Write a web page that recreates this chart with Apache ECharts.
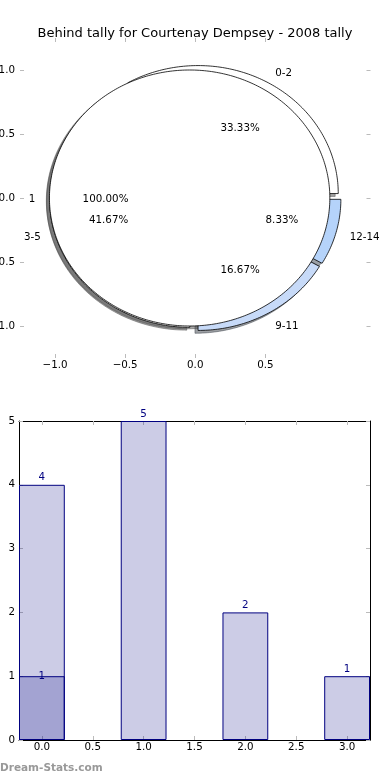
<!DOCTYPE html>
<html><head><meta charset="utf-8">
<script src="https://cdn.jsdelivr.net/npm/echarts@6/dist/echarts.min.js"></script>
<style>html,body{margin:0;padding:0;background:#fff}#c{width:390px;height:780px}</style>
</head><body><div id="c"></div>
<script>
// ---- data ----
const titleText = 'Behind tally for Courtenay Dempsey - 2008 tally';
const pieLabels = ['0-2', '3-5', '9-11', '12-14'];
const pieValues = [4, 5, 2, 1];
const pieColors = ['#ffffff', '#ffffff', '#c7daf8', '#b5d3fa'];
const innerLabels = ['1'];
const innerValues = [1];
const innerColors = ['#ffffff'];
const pieXTicks = [-1, -0.5, 0, 0.5];
const pieYTicks = [-1, -0.5, 0, 0.5, 1];
const barPositions = [0, 1, 2, 3];
const barValues = [4, 5, 2, 1];
const overlayPositions = [0];
const overlayValues = [1];
const barXTicks = [0, 0.5, 1, 1.5, 2, 2.5, 3];
const watermark = 'Dream-Stats.com';

// ---- style / layout ----
const EXPLODE = 0.04;
const SHADOW_OFF = -0.022;
const FONT = '"DejaVu Sans", sans-serif';
const FS = 10.3;
const TEXT_DY = 1.5;
const pieGrid = {left: 20, top: 38, width: 350.5, height: 320};
const barGrid = {left: 19, top: 421, width: 351, height: 319};
const barXMin = -0.225, barXMax = 3.225;
const barW = 0.45 * barGrid.width / (barXMax - barXMin);
const NAVY = '#000080';
const TICK = '#bbbbbb';

function slices(values) {
  const total = values.reduce((a, b) => a + b, 0);
  let acc = 0;
  return values.map(v => {
    const a0 = acc / total * 360; acc += v; const a1 = acc / total * 360;
    const m = (a0 + a1) / 2 * Math.PI / 180;
    return {a0, a1, m, cx: EXPLODE * Math.cos(m), cy: EXPLODE * Math.sin(m),
            full: (a1 - a0) >= 359.999, pct: v / total * 100};
  });
}
const outerS = slices(pieValues);
const innerS = slices(innerValues);

function wedgePts(api, s, dx, dy) {
  const pts = [];
  if (!s.full) pts.push(api.coord([s.cx + dx, s.cy + dy]));
  const n = Math.max(2, Math.ceil(s.a1 - s.a0));
  for (let i = 0; i <= n; i++) {
    const a = (s.a0 + (s.a1 - s.a0) * i / n) * Math.PI / 180;
    pts.push(api.coord([s.cx + dx + Math.cos(a), s.cy + dy + Math.sin(a)]));
  }
  return pts;
}
function shadowColor(hex) {
  const r = parseInt(hex.slice(1, 3), 16), g = parseInt(hex.slice(3, 5), 16), b = parseInt(hex.slice(5, 7), 16);
  return 'rgba(' + Math.round(r * 0.3) + ',' + Math.round(g * 0.3) + ',' + Math.round(b * 0.3) + ',0.5)';
}

function wedgeSeries(name, sl, labels, values, colors, z, shadow) {
  return {
    type: 'custom', name, xAxisIndex: 0, yAxisIndex: 0, z, silent: true, clip: false,
    data: values.map((v, i) => ({value: [i, v], name: labels[i]})),
    renderItem: (params, api) => {
      const i = params.dataIndex, s = sl[i];
      if (shadow) {
        const c = shadowColor(colors[i]);
        return {type: 'polygon', shape: {points: wedgePts(api, s, SHADOW_OFF, SHADOW_OFF)},
                style: {fill: c, stroke: c, lineWidth: 1}};
      }
      return {type: 'polygon', shape: {points: wedgePts(api, s, 0, 0)},
              style: {fill: colors[i], stroke: '#000', lineWidth: 0.8}};
    }
  };
}
function labelSeries(name, sl, labels, values, z) {
  return {
    type: 'custom', name, xAxisIndex: 0, yAxisIndex: 0, z, silent: true, clip: false,
    data: values.map((v, i) => ({value: [i, v], name: labels[i]})),
    renderItem: (params, api) => {
      const i = params.dataIndex, s = sl[i];
      const lx = s.cx + 1.1 * Math.cos(s.m), ly = s.cy + 1.1 * Math.sin(s.m);
      const px = s.cx + 0.6 * Math.cos(s.m), py = s.cy + 0.6 * Math.sin(s.m);
      const lp = api.coord([lx, ly]), pp = api.coord([px, py]);
      return {type: 'group', children: [
        {type: 'text', x: lp[0], y: lp[1] + TEXT_DY, style: {text: labels[i], fill: '#000', fontSize: FS, fontFamily: FONT,
          align: lx > 0 ? 'left' : 'right', verticalAlign: 'middle'}},
        {type: 'text', x: pp[0], y: pp[1] + TEXT_DY, style: {text: s.pct.toFixed(2) + '%', fill: '#000', fontSize: FS, fontFamily: FONT,
          align: 'center', verticalAlign: 'middle'}}
      ]};
    }
  };
}

const fmt1 = v => (v < 0 ? '\u2212' : '') + Math.abs(v).toFixed(1);
const tickStyle = vals => ({show: true, inside: true, length: 4, lineStyle: {color: TICK, width: 1}, customValues: vals});
const lbl = (vals, margin, f) => ({show: true, customValues: vals, formatter: f, color: '#000', fontSize: FS, fontFamily: FONT, margin});

const option = {
  animation: false,
  backgroundColor: '#fff',
  title: {text: titleText, left: 'center', top: 22,
          textStyle: {fontSize: 13, fontWeight: 'normal', color: '#000', fontFamily: FONT}},
  grid: [
    Object.assign({containLabel: false, outerBoundsMode: 'none'}, pieGrid),
    Object.assign({containLabel: false, outerBoundsMode: 'none'}, barGrid)
  ],
  xAxis: [
    {gridIndex: 0, type: 'value', position: 'bottom', min: -1.25, max: 1.25,
     axisLine: {show: false, onZero: false}, splitLine: {show: false},
     axisTick: tickStyle(pieXTicks), axisLabel: lbl(pieXTicks, 2, fmt1)},
    {gridIndex: 0, type: 'value', position: 'top', min: -1.25, max: 1.25,
     axisLine: {show: false, onZero: false}, splitLine: {show: false},
     axisTick: tickStyle(pieXTicks), axisLabel: {show: false}},
    {gridIndex: 1, type: 'value', position: 'bottom', min: barXMin, max: barXMax,
     axisLine: {show: true, onZero: false, lineStyle: {color: '#000', width: 1}}, splitLine: {show: false},
     axisTick: tickStyle(barXTicks), axisLabel: lbl(barXTicks, 2, fmt1)},
    {gridIndex: 1, type: 'value', position: 'top', min: barXMin, max: barXMax,
     axisLine: {show: true, onZero: false, lineStyle: {color: '#000', width: 1}}, splitLine: {show: false},
     axisTick: tickStyle(barXTicks), axisLabel: {show: false}}
  ],
  yAxis: [
    {gridIndex: 0, type: 'value', position: 'left', min: -1.25, max: 1.25,
     axisLine: {show: false, onZero: false}, splitLine: {show: false},
     axisTick: tickStyle(pieYTicks), axisLabel: lbl(pieYTicks, 5, fmt1)},
    {gridIndex: 0, type: 'value', position: 'right', min: -1.25, max: 1.25,
     axisLine: {show: false, onZero: false}, splitLine: {show: false},
     axisTick: tickStyle(pieYTicks), axisLabel: {show: false}},
    {gridIndex: 1, type: 'value', position: 'left', min: 0, max: 5, interval: 1,
     axisLine: {show: true, onZero: false, lineStyle: {color: '#000', width: 1}}, splitLine: {show: false},
     axisTick: {show: true, inside: true, length: 4, lineStyle: {color: TICK}},
     axisLabel: {show: true, color: '#000', fontSize: FS, fontFamily: FONT, margin: 4}},
    {gridIndex: 1, type: 'value', position: 'right', min: 0, max: 5, interval: 1,
     axisLine: {show: true, onZero: false, lineStyle: {color: '#000', width: 1}}, splitLine: {show: false},
     axisTick: {show: true, inside: true, length: 4, lineStyle: {color: TICK}},
     axisLabel: {show: false}}
  ],
  series: [
    wedgeSeries('outerShadow', outerS, pieLabels, pieValues, pieColors, 1, true),
    wedgeSeries('innerShadow', innerS, innerLabels, innerValues, innerColors, 1, true),
    wedgeSeries('outer', outerS, pieLabels, pieValues, pieColors, 2, false),
    wedgeSeries('inner', innerS, innerLabels, innerValues, innerColors, 3, false),
    labelSeries('outerLabels', outerS, pieLabels, pieValues, 4),
    labelSeries('innerLabels', innerS, innerLabels, innerValues, 4),
    {type: 'bar', name: 'tally', xAxisIndex: 2, yAxisIndex: 2, barWidth: barW, barGap: '-100%',
     data: barPositions.map((p, i) => [p, barValues[i]]),
     itemStyle: {color: 'rgba(0,0,128,0.2)', borderColor: NAVY, borderWidth: 1},
     label: {show: true, position: 'top', distance: 2, color: NAVY, fontSize: FS, fontFamily: FONT,
             formatter: p => String(p.value[1])}},
    {type: 'bar', name: 'overlay', xAxisIndex: 2, yAxisIndex: 2, barWidth: barW, barGap: '-100%',
     data: overlayPositions.map((p, i) => [p, overlayValues[i]]),
     itemStyle: {color: 'rgba(0,0,128,0.2)', borderColor: NAVY, borderWidth: 1},
     label: {show: true, position: 'top', distance: 2, offset: [0, 7], color: NAVY, fontSize: FS, fontFamily: FONT,
             formatter: p => String(p.value[1])}}
  ],
  graphic: [
    {type: 'text', left: 0, top: 763, silent: true,
     style: {text: watermark, fill: '#999999', font: 'bold 10.5px ' + FONT}}
  ]
};

const chart = echarts.init(document.getElementById('c'), null, {renderer: 'canvas', width: 390, height: 780});
chart.setOption(option);
</script>
</body></html>
